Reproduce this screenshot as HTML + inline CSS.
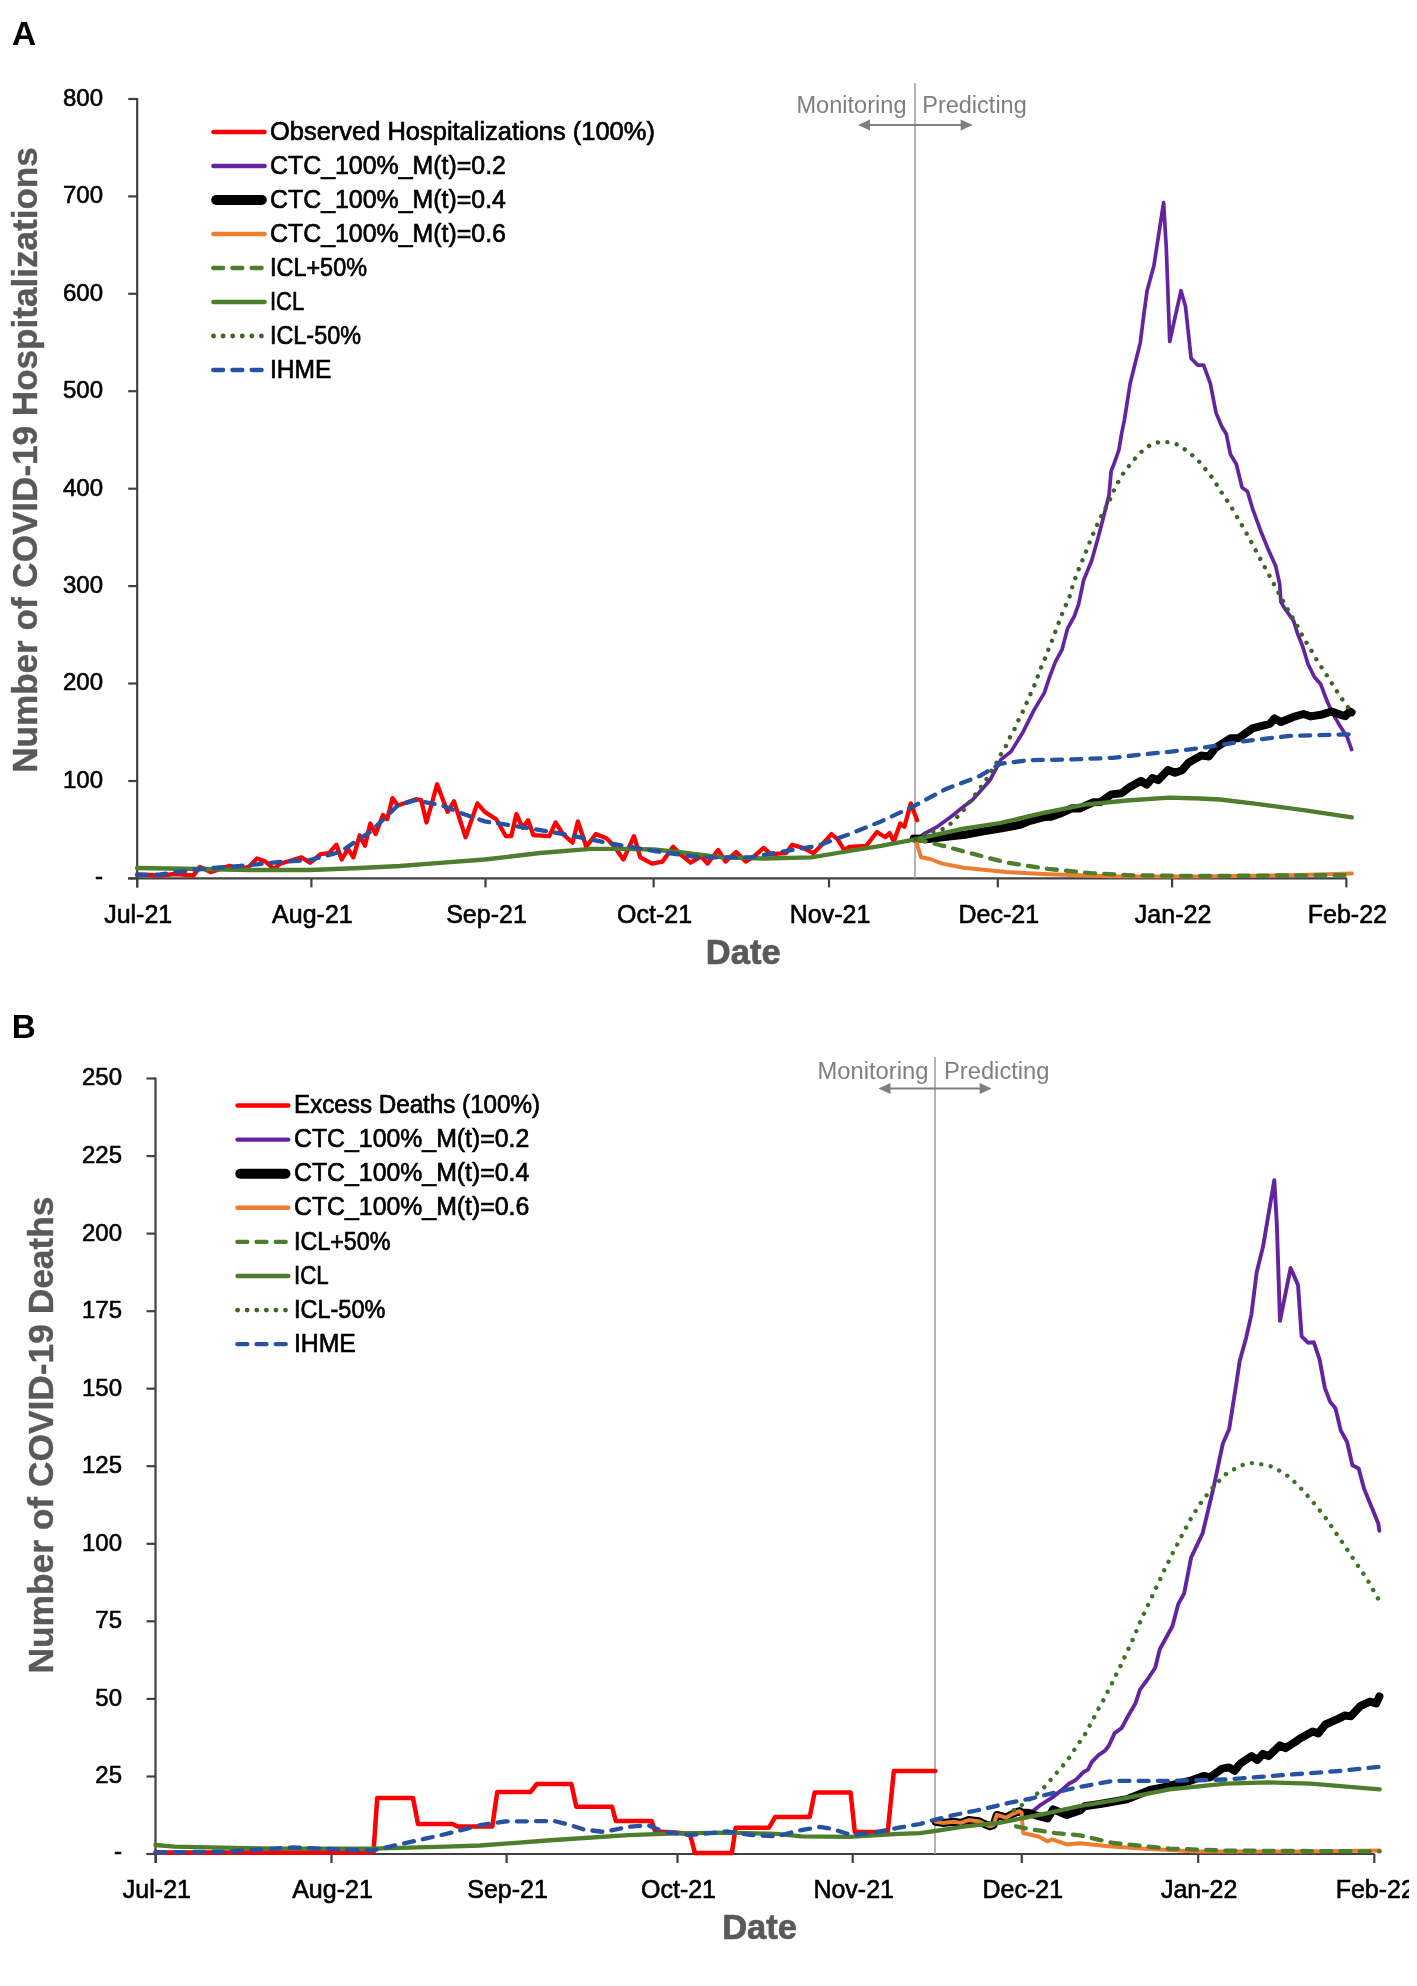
<!DOCTYPE html>
<html><head><meta charset="utf-8"><title>COVID-19 hospitalizations and deaths</title>
<style>html,body{margin:0;padding:0;background:#fff;width:1417px;height:1986px;overflow:hidden}svg{display:block;filter:blur(0.4px)}text{font-family:"Liberation Sans",sans-serif}</style>
</head><body>
<svg width="1417" height="1986" viewBox="0 0 1417 1986" font-family='"Liberation Sans", sans-serif'>
<rect width="1417" height="1986" fill="#ffffff"/>
<line x1="128.2" y1="878.4" x2="137.2" y2="878.4" stroke="#404040" stroke-width="2.2"/>
<text x="103.0" y="883.8" text-anchor="end" font-size="24" fill="#000" stroke="#000" stroke-width="0.6">-</text>
<line x1="128.2" y1="781.0" x2="137.2" y2="781.0" stroke="#404040" stroke-width="2.2"/>
<text x="103.0" y="787.9" text-anchor="end" font-size="24" fill="#000" stroke="#000" stroke-width="0.6">100</text>
<line x1="128.2" y1="683.5" x2="137.2" y2="683.5" stroke="#404040" stroke-width="2.2"/>
<text x="103.0" y="690.4" text-anchor="end" font-size="24" fill="#000" stroke="#000" stroke-width="0.6">200</text>
<line x1="128.2" y1="586.1" x2="137.2" y2="586.1" stroke="#404040" stroke-width="2.2"/>
<text x="103.0" y="593.0" text-anchor="end" font-size="24" fill="#000" stroke="#000" stroke-width="0.6">300</text>
<line x1="128.2" y1="488.7" x2="137.2" y2="488.7" stroke="#404040" stroke-width="2.2"/>
<text x="103.0" y="495.6" text-anchor="end" font-size="24" fill="#000" stroke="#000" stroke-width="0.6">400</text>
<line x1="128.2" y1="391.2" x2="137.2" y2="391.2" stroke="#404040" stroke-width="2.2"/>
<text x="103.0" y="398.1" text-anchor="end" font-size="24" fill="#000" stroke="#000" stroke-width="0.6">500</text>
<line x1="128.2" y1="293.8" x2="137.2" y2="293.8" stroke="#404040" stroke-width="2.2"/>
<text x="103.0" y="300.7" text-anchor="end" font-size="24" fill="#000" stroke="#000" stroke-width="0.6">600</text>
<line x1="128.2" y1="196.4" x2="137.2" y2="196.4" stroke="#404040" stroke-width="2.2"/>
<text x="103.0" y="203.3" text-anchor="end" font-size="24" fill="#000" stroke="#000" stroke-width="0.6">700</text>
<line x1="128.2" y1="99.0" x2="137.2" y2="99.0" stroke="#404040" stroke-width="2.2"/>
<text x="103.0" y="105.9" text-anchor="end" font-size="24" fill="#000" stroke="#000" stroke-width="0.6">800</text>
<line x1="137.2" y1="878.4" x2="137.2" y2="887.4" stroke="#404040" stroke-width="2.2"/>
<text x="138.2" y="923.0" text-anchor="middle" font-size="25" fill="#000" stroke="#000" stroke-width="0.6">Jul-21</text>
<line x1="311.4" y1="878.4" x2="311.4" y2="887.4" stroke="#404040" stroke-width="2.2"/>
<text x="312.4" y="923.0" text-anchor="middle" font-size="25" fill="#000" stroke="#000" stroke-width="0.6">Aug-21</text>
<line x1="485.5" y1="878.4" x2="485.5" y2="887.4" stroke="#404040" stroke-width="2.2"/>
<text x="486.5" y="923.0" text-anchor="middle" font-size="25" fill="#000" stroke="#000" stroke-width="0.6">Sep-21</text>
<line x1="653.6" y1="878.4" x2="653.6" y2="887.4" stroke="#404040" stroke-width="2.2"/>
<text x="654.6" y="923.0" text-anchor="middle" font-size="25" fill="#000" stroke="#000" stroke-width="0.6">Oct-21</text>
<line x1="829.0" y1="878.4" x2="829.0" y2="887.4" stroke="#404040" stroke-width="2.2"/>
<text x="830.0" y="923.0" text-anchor="middle" font-size="25" fill="#000" stroke="#000" stroke-width="0.6">Nov-21</text>
<line x1="997.8" y1="878.4" x2="997.8" y2="887.4" stroke="#404040" stroke-width="2.2"/>
<text x="998.8" y="923.0" text-anchor="middle" font-size="25" fill="#000" stroke="#000" stroke-width="0.6">Dec-21</text>
<line x1="1172.1" y1="878.4" x2="1172.1" y2="887.4" stroke="#404040" stroke-width="2.2"/>
<text x="1173.1" y="923.0" text-anchor="middle" font-size="25" fill="#000" stroke="#000" stroke-width="0.6">Jan-22</text>
<line x1="1346.4" y1="878.4" x2="1346.4" y2="887.4" stroke="#404040" stroke-width="2.2"/>
<text x="1347.4" y="923.0" text-anchor="middle" font-size="25" fill="#000" stroke="#000" stroke-width="0.6">Feb-22</text>
<line x1="137.2" y1="98.0" x2="137.2" y2="887.4" stroke="#404040" stroke-width="2.2"/>
<line x1="128.2" y1="878.4" x2="1347.0" y2="878.4" stroke="#404040" stroke-width="2.2"/>
<line x1="915.0" y1="83.0" x2="915.0" y2="878.4" stroke="#a0a0a0" stroke-width="1.6"/>
<text x="796.5" y="112.7" font-size="23.5" fill="#7f7f7f" textLength="110" lengthAdjust="spacingAndGlyphs">Monitoring</text>
<text x="922.2" y="112.7" font-size="23.5" fill="#7f7f7f" textLength="104.6" lengthAdjust="spacingAndGlyphs">Predicting</text>
<line x1="868.0" y1="125.0" x2="962.7" y2="125.0" stroke="#7f7f7f" stroke-width="2"/>
<polygon points="858.0,125.0 870.0,119.5 870.0,130.5" fill="#7f7f7f"/>
<polygon points="972.7,125.0 960.7,119.5 960.7,130.5" fill="#7f7f7f"/>
<text x="743.2" y="964.3" text-anchor="middle" font-size="34.5" font-weight="bold" fill="#595959" stroke="#595959" stroke-width="0.7">Date</text>
<text transform="translate(36.7,460.0) rotate(-90)" text-anchor="middle" font-size="35" font-weight="bold" fill="#595959" stroke="#595959" stroke-width="0.4" textLength="625.5" lengthAdjust="spacingAndGlyphs">Number of COVID-19 Hospitalizations</text>
<text x="12.1" y="45.0" font-size="33.4" font-weight="bold" fill="#000">A</text>
<line x1="213.4" y1="132.0" x2="264.6" y2="132.0" stroke="#ff0000" stroke-width="4.4" stroke-linecap="round"/>
<text x="270.0" y="139.6" font-size="26" fill="#000" stroke="#000" stroke-width="0.7" textLength="384.9" lengthAdjust="spacingAndGlyphs">Observed Hospitalizations (100%)</text>
<line x1="213.4" y1="166.0" x2="264.6" y2="166.0" stroke="#6424a0" stroke-width="4.4" stroke-linecap="round"/>
<text x="270.0" y="173.6" font-size="26" fill="#000" stroke="#000" stroke-width="0.7" textLength="235.9" lengthAdjust="spacingAndGlyphs">CTC_100%_M(t)=0.2</text>
<line x1="216.2" y1="200.0" x2="261.8" y2="200.0" stroke="#000000" stroke-width="10" stroke-linecap="round"/>
<text x="270.0" y="207.6" font-size="26" fill="#000" stroke="#000" stroke-width="0.7" textLength="235.9" lengthAdjust="spacingAndGlyphs">CTC_100%_M(t)=0.4</text>
<line x1="213.4" y1="234.0" x2="264.6" y2="234.0" stroke="#ed7d31" stroke-width="4.4" stroke-linecap="round"/>
<text x="270.0" y="241.6" font-size="26" fill="#000" stroke="#000" stroke-width="0.7" textLength="235.9" lengthAdjust="spacingAndGlyphs">CTC_100%_M(t)=0.6</text>
<line x1="213.2" y1="268.0" x2="261.6" y2="268.0" stroke="#4d7e2b" stroke-width="4.3" stroke-linecap="round" stroke-dasharray="10 9.2"/>
<text x="270.0" y="275.6" font-size="26" fill="#000" stroke="#000" stroke-width="0.7" textLength="97.0" lengthAdjust="spacingAndGlyphs">ICL+50%</text>
<line x1="213.4" y1="302.0" x2="264.6" y2="302.0" stroke="#4d7e2b" stroke-width="4.4" stroke-linecap="round"/>
<text x="270.0" y="309.6" font-size="26" fill="#000" stroke="#000" stroke-width="0.7" textLength="34.3" lengthAdjust="spacingAndGlyphs">ICL</text>
<line x1="213.5" y1="336.0" x2="261.5" y2="336.0" stroke="#3d6428" stroke-width="4.8" stroke-linecap="round" stroke-dasharray="0.01 9.57"/>
<text x="270.0" y="343.6" font-size="26" fill="#000" stroke="#000" stroke-width="0.7" textLength="90.9" lengthAdjust="spacingAndGlyphs">ICL-50%</text>
<line x1="213.2" y1="370.0" x2="261.6" y2="370.0" stroke="#2652a0" stroke-width="4.3" stroke-linecap="round" stroke-dasharray="10 9.2"/>
<text x="270.0" y="377.6" font-size="26" fill="#000" stroke="#000" stroke-width="0.7" textLength="61.4" lengthAdjust="spacingAndGlyphs">IHME</text>
<polyline points="137.4,874.3 150.0,875.0 161.8,875.4 175.0,874.0 193.5,875.4 199.9,866.9 210.5,872.2 229.5,865.9 240.0,869.0 248.6,866.9 257.0,858.5 265.5,861.6 274.0,869.0 280.3,863.7 301.5,857.4 310.0,862.7 320.6,854.2 329.0,853.2 336.4,844.7 341.7,859.5 348.0,848.9 353.4,857.4 359.7,835.2 365.0,845.8 370.3,823.5 375.6,834.1 383.0,815.0 387.2,819.3 392.5,798.1 397.8,805.5 415.8,799.2 421.2,800.2 426.5,822.5 437.1,784.3 447.6,811.9 454.0,801.3 465.6,837.3 477.3,803.4 484.7,811.9 496.3,819.3 505.9,836.2 511.2,836.2 516.4,814.0 522.8,827.8 528.1,820.3 533.4,835.2 549.3,836.2 555.6,822.5 563.0,834.1 572.6,842.6 577.9,821.4 586.3,846.8 595.8,834.1 606.4,838.3 613.8,845.8 623.4,859.5 634.0,836.2 640.3,857.4 652.0,863.7 662.5,861.6 673.1,846.8 681.6,855.3 690.6,862.7 701.2,856.3 707.5,863.7 718.1,850.0 725.5,861.6 736.1,852.1 745.6,861.6 753.0,857.4 763.6,847.9 771.0,854.2 785.9,853.2 792.2,844.7 802.8,847.9 813.4,853.2 821.9,844.7 831.4,834.1 837.7,839.4 844.1,850.0 849.4,846.8 866.3,845.8 876.9,832.0 885.4,837.3 889.6,833.0 893.8,841.5 900.2,823.5 904.4,826.7 910.8,803.4 917.1,820.3" fill="none" stroke="#ff0000" stroke-width="4.3" stroke-linecap="round" stroke-linejoin="round" />
<polyline points="915.9,839.3 923.8,834.0 937.5,826.6 951.3,816.5 965.0,805.5 972.4,800.0 984.7,786.3 990.0,780.0 1001.1,759.4 1011.0,751.6 1023.2,731.7 1034.3,709.6 1044.3,692.9 1049.8,676.3 1055.4,661.9 1062.0,649.7 1067.5,628.7 1074.2,616.5 1078.6,604.3 1083.6,580.4 1091.7,560.5 1098.1,537.8 1103.5,517.0 1109.0,495.2 1111.2,470.7 1113.5,465.3 1118.9,449.9 1121.6,433.6 1124.4,420.0 1130.2,383.3 1140.3,342.6 1143.7,315.5 1147.1,290.7 1153.9,265.8 1158.4,236.5 1163.6,202.6 1166.3,247.8 1169.7,341.5 1181.0,290.7 1185.5,306.5 1191.1,358.4 1197.9,365.2 1203.6,365.2 1210.3,383.3 1216.0,412.6 1221.6,426.2 1226.3,434.0 1230.4,454.2 1236.4,464.3 1242.0,487.4 1247.5,491.4 1252.5,508.6 1260.6,530.7 1267.6,547.9 1275.7,566.0 1279.7,584.1 1280.9,601.8 1284.5,608.1 1293.6,620.8 1297.2,632.6 1302.6,646.2 1308.1,664.3 1314.4,677.0 1320.8,684.3 1326.2,698.8 1331.6,711.5 1338.9,724.2 1347.1,736.9 1351.6,749.6" fill="none" stroke="#6424a0" stroke-width="3.7" stroke-linecap="round" stroke-linejoin="round" />
<polyline points="913.7,838.5 928.3,839.0 946.7,836.8 965.0,834.7 983.4,831.3 1001.7,828.3 1020.1,824.8 1030.0,820.8 1044.1,817.1 1051.2,816.8 1061.8,812.9 1072.3,808.2 1079.4,808.5 1093.5,802.2 1100.6,802.0 1111.2,794.4 1121.7,793.2 1129.9,786.9 1141.1,780.8 1146.8,784.6 1152.4,778.0 1158.1,780.1 1168.0,770.0 1175.0,772.8 1182.1,770.2 1188.8,762.4 1201.2,755.6 1209.0,756.4 1215.2,748.1 1230.7,738.2 1238.5,738.2 1252.5,728.4 1264.9,725.2 1270.0,723.6 1274.5,718.4 1280.9,722.0 1292.7,717.2 1303.5,714.0 1310.8,716.4 1320.8,714.8 1331.6,711.5 1340.7,714.8 1345.2,716.1 1349.8,711.4 1351.6,712.4" fill="none" stroke="#000000" stroke-width="8" stroke-linecap="round" stroke-linejoin="round" />
<polyline points="915.9,839.3 918.0,847.7 921.2,857.3 930.0,859.0 942.3,863.6 963.5,867.8 1005.9,872.1 1048.2,874.2 1111.7,876.3 1200.0,876.5 1300.0,875.0 1352.0,873.5" fill="none" stroke="#ed7d31" stroke-width="4" stroke-linecap="round" stroke-linejoin="round" />
<polyline points="915.9,839.3 942.3,845.6 974.1,854.1 1005.9,862.5 1048.2,868.9 1090.6,873.1 1132.9,875.3 1200.0,876.0 1352.0,875.0" fill="none" stroke="#4d7e2b" stroke-width="4.3" stroke-linecap="round" stroke-linejoin="round" stroke-dasharray="10 9.2" />
<polyline points="137.0,868.0 200.0,869.0 250.0,870.0 310.0,870.0 360.0,868.0 400.0,866.0 430.0,863.7 484.7,859.5 540.0,853.0 590.6,848.9 622.3,848.9 654.0,849.5 680.0,852.1 722.3,857.4 764.7,858.5 811.3,857.4 849.4,851.0 881.1,845.8 915.0,839.4 963.5,828.7 1000.0,823.0 1042.3,813.2 1084.7,804.7 1127.0,800.5 1169.4,797.6 1200.0,798.5 1219.9,799.5 1258.7,804.2 1305.3,810.4 1351.8,817.4" fill="none" stroke="#4d7e2b" stroke-width="4.3" stroke-linecap="round" stroke-linejoin="round" />
<polyline points="915.9,839.3 931.0,832.0 942.0,829.4 950.4,823.9 957.7,816.5 964.1,809.2 984.7,782.1 996.6,762.7 1001.1,753.9 1006.6,745.0 1010.5,736.1 1014.9,728.4 1018.8,719.5 1023.2,710.7 1027.1,701.8 1031.0,692.9 1034.9,684.1 1038.2,675.2 1041.5,666.3 1045.4,657.5 1048.7,648.6 1052.6,639.2 1055.9,630.3 1059.2,621.5 1062.6,612.6 1066.4,603.8 1070.5,594.4 1072.7,585.4 1075.9,576.3 1079.5,567.2 1083.1,558.6 1086.8,549.6 1090.4,540.5 1094.0,531.9 1098.1,522.8 1102.2,514.2 1107.2,505.2 1111.2,497.0 1114.9,488.0 1119.4,479.8 1124.4,471.6 1130.3,464.4 1136.6,456.7 1143.4,449.9 1151.1,444.5 1160.2,441.7 1169.7,442.2 1178.7,444.9 1186.5,450.7 1194.1,456.7 1200.7,463.2 1206.7,470.8 1212.7,478.4 1217.8,486.4 1222.8,494.5 1228.4,502.5 1233.4,510.6 1238.4,519.2 1243.0,527.2 1248.0,535.8 1252.5,544.3 1257.1,552.9 1261.6,561.5 1266.1,569.5 1270.7,578.1 1275.2,586.6 1284.3,603.3 1289.0,611.8 1294.5,620.8 1299.0,629.0 1303.1,637.1 1308.1,645.3 1313.1,653.5 1318.0,662.1 1323.5,670.2 1328.5,677.9 1333.5,686.1 1338.9,694.3 1344.3,702.4 1349.8,709.7" fill="none" stroke="#3d6428" stroke-width="4.4" stroke-linecap="round" stroke-linejoin="round" stroke-dasharray="0.01 9.57" />
<polyline points="137.0,875.0 160.0,874.5 200.0,869.0 240.0,866.0 280.0,862.0 310.0,860.0 340.0,852.0 370.0,832.0 385.0,818.0 397.8,805.5 414.8,800.2 442.3,805.5 463.5,814.0 484.7,821.4 527.0,827.8 569.4,835.2 611.7,843.6 654.0,851.0 700.0,857.4 749.9,857.4 785.9,851.0 817.6,845.8 849.4,834.1 881.1,821.4 912.9,806.6 944.7,789.6 980.0,775.9 1000.0,763.8 1028.2,760.2 1070.6,759.5 1112.9,757.8 1141.1,754.6 1169.4,751.8 1200.0,748.2 1243.2,741.3 1289.7,735.9 1351.8,734.3" fill="none" stroke="#2652a0" stroke-width="4.3" stroke-linecap="round" stroke-linejoin="round" stroke-dasharray="10 9.2" />
<line x1="146.5" y1="1854.0" x2="155.5" y2="1854.0" stroke="#404040" stroke-width="2.2"/>
<text x="122.0" y="1859.4" text-anchor="end" font-size="24" fill="#000" stroke="#000" stroke-width="0.6">-</text>
<line x1="146.5" y1="1776.5" x2="155.5" y2="1776.5" stroke="#404040" stroke-width="2.2"/>
<text x="122.0" y="1783.4" text-anchor="end" font-size="24" fill="#000" stroke="#000" stroke-width="0.6">25</text>
<line x1="146.5" y1="1698.9" x2="155.5" y2="1698.9" stroke="#404040" stroke-width="2.2"/>
<text x="122.0" y="1705.8" text-anchor="end" font-size="24" fill="#000" stroke="#000" stroke-width="0.6">50</text>
<line x1="146.5" y1="1621.3" x2="155.5" y2="1621.3" stroke="#404040" stroke-width="2.2"/>
<text x="122.0" y="1628.2" text-anchor="end" font-size="24" fill="#000" stroke="#000" stroke-width="0.6">75</text>
<line x1="146.5" y1="1543.8" x2="155.5" y2="1543.8" stroke="#404040" stroke-width="2.2"/>
<text x="122.0" y="1550.7" text-anchor="end" font-size="24" fill="#000" stroke="#000" stroke-width="0.6">100</text>
<line x1="146.5" y1="1466.2" x2="155.5" y2="1466.2" stroke="#404040" stroke-width="2.2"/>
<text x="122.0" y="1473.2" text-anchor="end" font-size="24" fill="#000" stroke="#000" stroke-width="0.6">125</text>
<line x1="146.5" y1="1388.7" x2="155.5" y2="1388.7" stroke="#404040" stroke-width="2.2"/>
<text x="122.0" y="1395.6" text-anchor="end" font-size="24" fill="#000" stroke="#000" stroke-width="0.6">150</text>
<line x1="146.5" y1="1311.2" x2="155.5" y2="1311.2" stroke="#404040" stroke-width="2.2"/>
<text x="122.0" y="1318.1" text-anchor="end" font-size="24" fill="#000" stroke="#000" stroke-width="0.6">175</text>
<line x1="146.5" y1="1233.6" x2="155.5" y2="1233.6" stroke="#404040" stroke-width="2.2"/>
<text x="122.0" y="1240.5" text-anchor="end" font-size="24" fill="#000" stroke="#000" stroke-width="0.6">200</text>
<line x1="146.5" y1="1156.1" x2="155.5" y2="1156.1" stroke="#404040" stroke-width="2.2"/>
<text x="122.0" y="1163.0" text-anchor="end" font-size="24" fill="#000" stroke="#000" stroke-width="0.6">225</text>
<line x1="146.5" y1="1078.5" x2="155.5" y2="1078.5" stroke="#404040" stroke-width="2.2"/>
<text x="122.0" y="1085.4" text-anchor="end" font-size="24" fill="#000" stroke="#000" stroke-width="0.6">250</text>
<line x1="155.9" y1="1854.0" x2="155.9" y2="1863.0" stroke="#404040" stroke-width="2.2"/>
<text x="156.9" y="1898.0" text-anchor="middle" font-size="25" fill="#000" stroke="#000" stroke-width="0.6">Jul-21</text>
<line x1="331.5" y1="1854.0" x2="331.5" y2="1863.0" stroke="#404040" stroke-width="2.2"/>
<text x="332.5" y="1898.0" text-anchor="middle" font-size="25" fill="#000" stroke="#000" stroke-width="0.6">Aug-21</text>
<line x1="506.6" y1="1854.0" x2="506.6" y2="1863.0" stroke="#404040" stroke-width="2.2"/>
<text x="507.6" y="1898.0" text-anchor="middle" font-size="25" fill="#000" stroke="#000" stroke-width="0.6">Sep-21</text>
<line x1="677.5" y1="1854.0" x2="677.5" y2="1863.0" stroke="#404040" stroke-width="2.2"/>
<text x="678.5" y="1898.0" text-anchor="middle" font-size="25" fill="#000" stroke="#000" stroke-width="0.6">Oct-21</text>
<line x1="852.7" y1="1854.0" x2="852.7" y2="1863.0" stroke="#404040" stroke-width="2.2"/>
<text x="853.7" y="1898.0" text-anchor="middle" font-size="25" fill="#000" stroke="#000" stroke-width="0.6">Nov-21</text>
<line x1="1021.8" y1="1854.0" x2="1021.8" y2="1863.0" stroke="#404040" stroke-width="2.2"/>
<text x="1022.8" y="1898.0" text-anchor="middle" font-size="25" fill="#000" stroke="#000" stroke-width="0.6">Dec-21</text>
<line x1="1198.2" y1="1854.0" x2="1198.2" y2="1863.0" stroke="#404040" stroke-width="2.2"/>
<text x="1199.2" y="1898.0" text-anchor="middle" font-size="25" fill="#000" stroke="#000" stroke-width="0.6">Jan-22</text>
<line x1="1374.3" y1="1854.0" x2="1374.3" y2="1863.0" stroke="#404040" stroke-width="2.2"/>
<text x="1375.3" y="1898.0" text-anchor="middle" font-size="25" fill="#000" stroke="#000" stroke-width="0.6">Feb-22</text>
<line x1="155.5" y1="1077.5" x2="155.5" y2="1863.0" stroke="#404040" stroke-width="2.2"/>
<line x1="146.5" y1="1854.0" x2="1374.5" y2="1854.0" stroke="#404040" stroke-width="2.2"/>
<line x1="935.0" y1="1057.0" x2="935.0" y2="1854.0" stroke="#a0a0a0" stroke-width="1.6"/>
<text x="817.4" y="1078.6" font-size="23.5" fill="#7f7f7f" textLength="111" lengthAdjust="spacingAndGlyphs">Monitoring</text>
<text x="944.0" y="1078.6" font-size="23.5" fill="#7f7f7f" textLength="105.5" lengthAdjust="spacingAndGlyphs">Predicting</text>
<line x1="888.5" y1="1088.5" x2="981.7" y2="1088.5" stroke="#7f7f7f" stroke-width="2"/>
<polygon points="878.5,1088.5 890.5,1083.0 890.5,1094.0" fill="#7f7f7f"/>
<polygon points="991.7,1088.5 979.7,1083.0 979.7,1094.0" fill="#7f7f7f"/>
<text x="759.6" y="1938.8" text-anchor="middle" font-size="34.5" font-weight="bold" fill="#595959" stroke="#595959" stroke-width="0.7">Date</text>
<text transform="translate(53.3,1435.0) rotate(-90)" text-anchor="middle" font-size="35" font-weight="bold" fill="#595959" stroke="#595959" stroke-width="0.4" textLength="477" lengthAdjust="spacingAndGlyphs">Number of COVID-19 Deaths</text>
<text x="11.8" y="1037.8" font-size="33.4" font-weight="bold" fill="#000">B</text>
<line x1="237.5" y1="1105.5" x2="288.3" y2="1105.5" stroke="#ff0000" stroke-width="4.4" stroke-linecap="round"/>
<text x="294.0" y="1113.1" font-size="26" fill="#000" stroke="#000" stroke-width="0.7" textLength="246.1" lengthAdjust="spacingAndGlyphs">Excess Deaths (100%)</text>
<line x1="237.5" y1="1139.6" x2="288.3" y2="1139.6" stroke="#6424a0" stroke-width="4.4" stroke-linecap="round"/>
<text x="294.0" y="1147.2" font-size="26" fill="#000" stroke="#000" stroke-width="0.7" textLength="235.3" lengthAdjust="spacingAndGlyphs">CTC_100%_M(t)=0.2</text>
<line x1="240.3" y1="1173.7" x2="285.5" y2="1173.7" stroke="#000000" stroke-width="10" stroke-linecap="round"/>
<text x="294.0" y="1181.3" font-size="26" fill="#000" stroke="#000" stroke-width="0.7" textLength="235.3" lengthAdjust="spacingAndGlyphs">CTC_100%_M(t)=0.4</text>
<line x1="237.5" y1="1207.8" x2="288.3" y2="1207.8" stroke="#ed7d31" stroke-width="4.4" stroke-linecap="round"/>
<text x="294.0" y="1215.4" font-size="26" fill="#000" stroke="#000" stroke-width="0.7" textLength="235.3" lengthAdjust="spacingAndGlyphs">CTC_100%_M(t)=0.6</text>
<line x1="237.3" y1="1241.9" x2="285.7" y2="1241.9" stroke="#4d7e2b" stroke-width="4.3" stroke-linecap="round" stroke-dasharray="10 9.2"/>
<text x="294.0" y="1249.5" font-size="26" fill="#000" stroke="#000" stroke-width="0.7" textLength="96.4" lengthAdjust="spacingAndGlyphs">ICL+50%</text>
<line x1="237.5" y1="1276.0" x2="288.3" y2="1276.0" stroke="#4d7e2b" stroke-width="4.4" stroke-linecap="round"/>
<text x="294.0" y="1283.6" font-size="26" fill="#000" stroke="#000" stroke-width="0.7" textLength="34.7" lengthAdjust="spacingAndGlyphs">ICL</text>
<line x1="237.6" y1="1310.1" x2="285.6" y2="1310.1" stroke="#3d6428" stroke-width="4.8" stroke-linecap="round" stroke-dasharray="0.01 9.57"/>
<text x="294.0" y="1317.7" font-size="26" fill="#000" stroke="#000" stroke-width="0.7" textLength="91.3" lengthAdjust="spacingAndGlyphs">ICL-50%</text>
<line x1="237.3" y1="1344.2" x2="285.7" y2="1344.2" stroke="#2652a0" stroke-width="4.3" stroke-linecap="round" stroke-dasharray="10 9.2"/>
<text x="294.0" y="1351.8" font-size="26" fill="#000" stroke="#000" stroke-width="0.7" textLength="61.8" lengthAdjust="spacingAndGlyphs">IHME</text>
<polyline points="155.5,1852.4 373.5,1852.4 377.2,1798.0 413.0,1798.0 418.0,1824.0 452.5,1824.0 457.5,1826.4 492.3,1826.4 497.3,1791.9 530.6,1791.9 536.8,1784.0 571.4,1784.0 576.3,1806.7 612.1,1806.7 615.8,1821.0 651.6,1821.0 655.3,1831.4 675.1,1832.6 689.9,1833.9 694.9,1853.1 731.9,1853.1 735.6,1827.7 769.0,1827.7 775.1,1817.1 809.7,1817.1 814.6,1792.6 850.6,1792.6 854.8,1831.9 887.7,1831.9 893.9,1770.9 935.3,1770.9" fill="none" stroke="#ff0000" stroke-width="4.5" stroke-linecap="round" stroke-linejoin="round" />
<polyline points="1021.6,1812.7 1032.6,1811.2 1041.5,1804.3 1052.4,1797.4 1061.3,1790.4 1069.2,1783.5 1075.1,1780.6 1084.0,1771.7 1087.9,1769.7 1091.9,1761.8 1098.8,1754.9 1104.7,1750.9 1108.7,1746.0 1114.6,1733.1 1121.5,1728.2 1128.5,1715.3 1135.4,1703.5 1140.0,1689.6 1147.1,1680.0 1155.2,1667.7 1159.8,1649.2 1172.5,1626.0 1178.3,1604.0 1184.1,1593.6 1191.1,1557.7 1202.6,1533.4 1214.2,1484.7 1222.8,1443.7 1229.2,1428.9 1235.5,1388.7 1239.7,1361.1 1246.1,1337.9 1251.4,1314.6 1256.7,1272.2 1263.0,1246.8 1274.3,1180.1 1276.8,1223.5 1280.0,1320.9 1290.6,1268.0 1298.0,1284.9 1301.6,1336.3 1308.0,1342.7 1313.8,1342.2 1319.6,1359.6 1324.9,1388.1 1330.2,1401.9 1335.5,1408.2 1340.7,1430.4 1347.1,1442.0 1352.4,1465.3 1358.7,1468.5 1364.0,1488.6 1378.3,1523.4 1379.3,1530.8" fill="none" stroke="#6424a0" stroke-width="3.9" stroke-linecap="round" stroke-linejoin="round" />
<polyline points="935.8,1821.8 942.6,1822.9 953.9,1821.8 960.7,1822.9 968.6,1820.1 978.7,1821.2 984.4,1824.0 990.0,1826.3 993.4,1825.2 996.8,1815.0 1001.3,1816.1 1005.8,1817.8 1012.6,1813.9 1019.4,1811.1 1021.6,1812.7 1027.3,1812.7 1038.6,1816.1 1047.6,1818.4 1053.2,1809.4 1066.8,1815.0 1080.0,1810.5 1084.7,1806.3 1100.0,1804.0 1127.0,1799.2 1150.0,1790.0 1161.3,1787.8 1172.6,1784.9 1189.5,1781.0 1204.2,1775.9 1209.8,1777.6 1222.3,1768.6 1229.0,1767.4 1234.7,1770.8 1240.3,1763.5 1251.6,1756.1 1257.3,1760.1 1262.9,1753.9 1268.6,1756.1 1279.9,1745.4 1285.5,1748.2 1296.8,1740.9 1300.0,1738.4 1312.7,1731.5 1318.4,1733.4 1325.4,1724.5 1338.1,1718.8 1344.5,1715.6 1350.8,1716.2 1360.4,1706.0 1369.9,1701.6 1376.2,1703.5 1379.4,1696.5" fill="none" stroke="#000000" stroke-width="8" stroke-linecap="round" stroke-linejoin="round" />
<polyline points="935.8,1821.8 942.6,1822.9 953.9,1821.8 960.7,1822.9 968.6,1820.1 978.7,1821.2 984.4,1824.0 990.0,1826.3 993.4,1825.2 996.8,1815.0 1001.3,1816.1 1005.8,1817.8 1012.6,1813.9 1019.4,1811.1 1021.6,1812.7 1022.2,1821.8 1023.3,1833.1 1032.9,1835.3 1038.6,1836.5 1047.6,1841.5 1052.1,1839.3 1066.8,1844.4 1080.0,1843.2 1108.7,1846.2 1141.1,1848.6 1197.6,1851.4 1300.0,1851.5 1379.7,1850.6" fill="none" stroke="#ed7d31" stroke-width="4" stroke-linecap="round" stroke-linejoin="round" />
<polyline points="1016.0,1826.3 1032.9,1829.7 1055.5,1833.1 1080.0,1835.3 1112.9,1843.0 1169.4,1848.6 1225.8,1850.6 1379.7,1851.4" fill="none" stroke="#4d7e2b" stroke-width="4.3" stroke-linecap="round" stroke-linejoin="round" stroke-dasharray="10 9.2" />
<polyline points="155.5,1845.0 174.7,1846.7 273.5,1848.7 372.3,1848.7 446.4,1846.7 480.0,1845.5 554.1,1840.0 628.2,1835.1 677.6,1833.4 727.0,1832.6 776.4,1833.9 801.1,1836.3 849.4,1836.8 898.8,1833.9 920.0,1833.1 935.8,1830.8 965.2,1826.3 999.0,1822.9 1021.6,1818.4 1044.2,1813.9 1080.0,1806.0 1112.9,1800.6 1169.4,1789.3 1225.8,1783.7 1268.2,1782.3 1310.5,1783.7 1379.7,1789.3" fill="none" stroke="#4d7e2b" stroke-width="4.3" stroke-linecap="round" stroke-linejoin="round" />
<polyline points="1013.8,1810.2 1021.7,1805.2 1037.5,1793.4 1044.5,1787.0 1050.4,1780.1 1056.8,1772.7 1063.2,1765.3 1069.2,1757.8 1074.6,1749.4 1080.0,1741.5 1085.5,1733.6 1089.9,1725.2 1094.4,1716.8 1098.8,1708.2 1103.8,1699.5 1108.2,1690.6 1112.6,1682.2 1116.6,1673.8 1121.0,1664.9 1125.1,1656.1 1133.2,1638.7 1140.7,1620.8 1148.8,1603.4 1156.9,1586.1 1165.0,1568.7 1173.7,1551.3 1182.4,1534.5 1191.6,1517.2 1202.1,1500.9 1213.6,1486.5 1227.5,1472.6 1244.9,1463.9 1254.6,1462.8 1273.6,1467.0 1290.0,1477.5 1296.3,1483.8 1303.2,1490.7 1309.6,1498.1 1315.9,1505.5 1321.7,1512.9 1327.5,1520.3 1332.8,1528.7 1338.1,1536.1 1354.1,1560.0 1367.0,1579.0 1379.7,1601.6" fill="none" stroke="#3a7424" stroke-width="4.4" stroke-linecap="round" stroke-linejoin="round" stroke-dasharray="0.01 9.57" />
<polyline points="155.5,1852.4 224.0,1851.6 293.2,1847.4 322.9,1848.7 372.3,1850.6 397.0,1845.0 446.4,1833.9 480.0,1825.2 504.7,1821.5 554.1,1821.0 566.4,1824.0 583.7,1829.4 603.5,1831.9 628.2,1826.9 647.9,1825.2 662.8,1831.4 689.9,1835.1 727.0,1831.4 751.7,1835.1 776.4,1836.3 801.1,1830.1 819.8,1826.9 832.1,1828.9 851.9,1835.1 874.1,1832.6 898.8,1827.7 920.0,1824.0 931.3,1820.7 953.9,1815.0 976.5,1810.5 1010.3,1802.6 1032.9,1798.1 1055.5,1792.4 1080.0,1786.8 1112.9,1780.9 1169.4,1780.9 1225.8,1779.5 1282.3,1775.2 1338.7,1771.0 1379.7,1766.8" fill="none" stroke="#2652a0" stroke-width="4.3" stroke-linecap="round" stroke-linejoin="round" stroke-dasharray="10 9.2" />
<rect x="1409" y="1862" width="8" height="50" fill="#ffffff"/>
</svg>
</body></html>
